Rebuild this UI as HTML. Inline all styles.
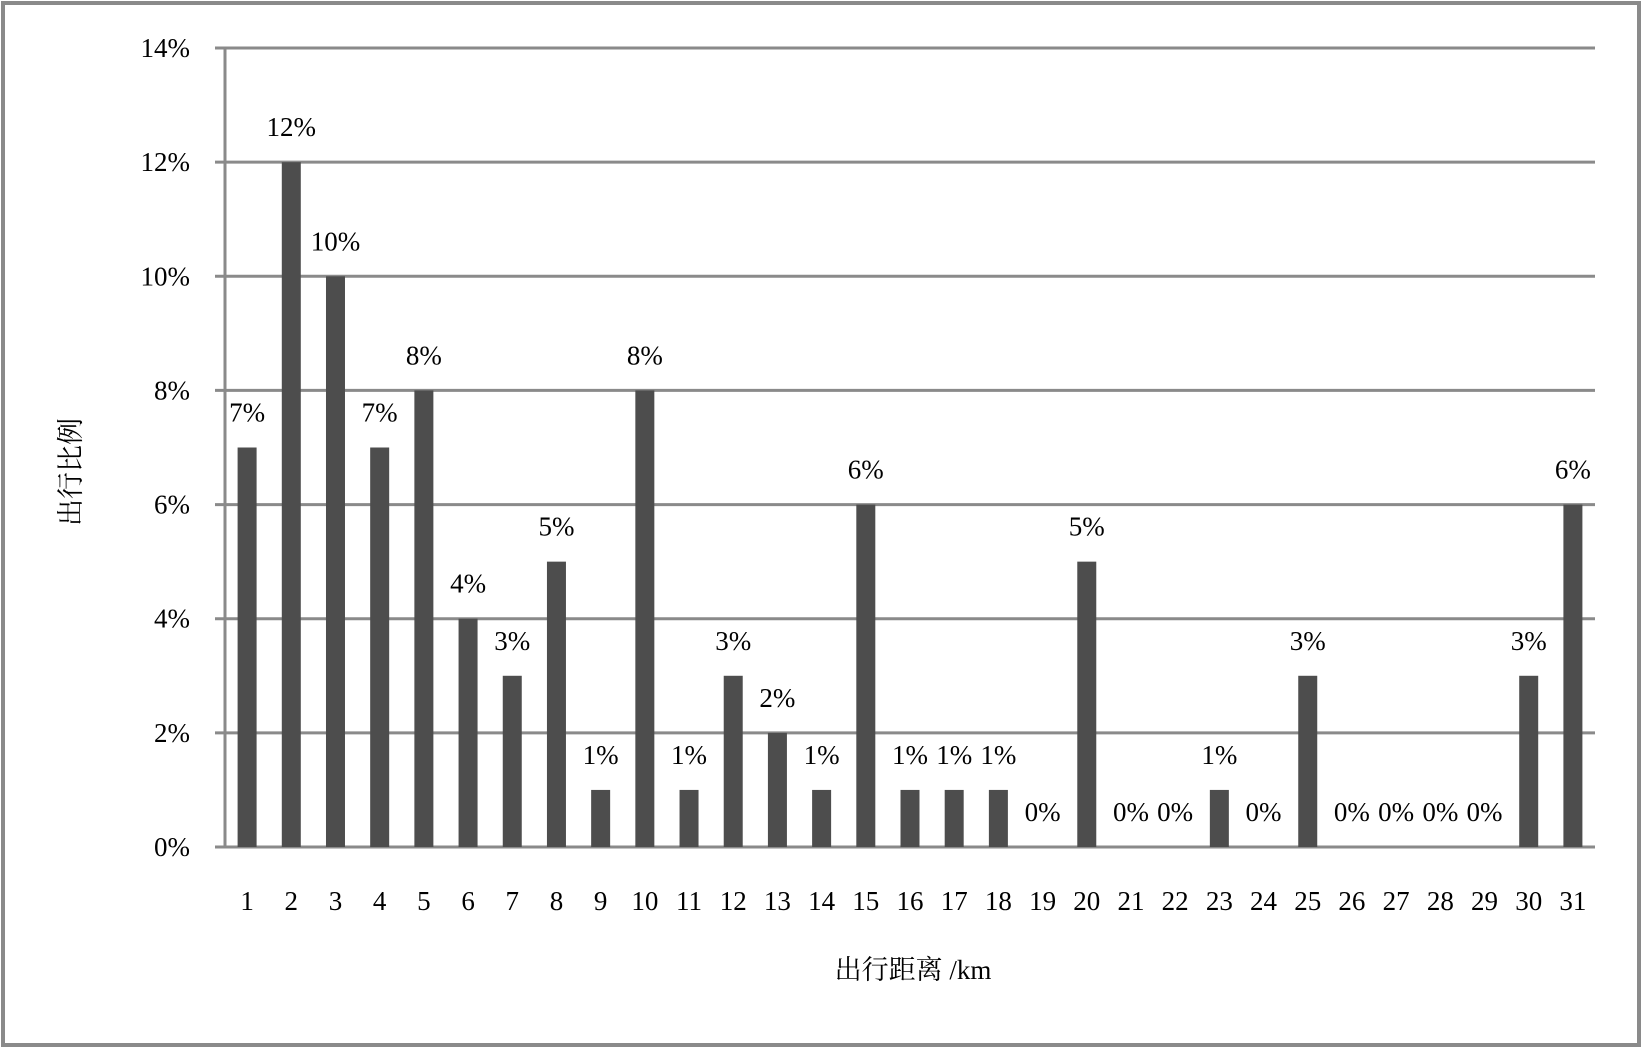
<!DOCTYPE html>
<html><head><meta charset="utf-8"><style>
body{margin:0;background:#fff}
svg text{font-family:"Liberation Serif","Noto Serif CJK SC",serif;fill:#000}
</style></head><body>
<svg width="1643" height="1049">
<rect x="3" y="3" width="1636" height="1042" fill="#fff" stroke="#8a8a8a" stroke-width="4"/>
<g id="grid"></g><g id="bars"></g><g id="labels"></g>
<text x="80" y="472" font-size="27" text-anchor="middle" transform="rotate(-90 80 472)">出行比例</text>
<text x="913" y="979" font-size="27" text-anchor="middle">出行距离 /km</text>
</svg>
<script>
const categories=[1,2,3,4,5,6,7,8,9,10,11,12,13,14,15,16,17,18,19,20,21,22,23,24,25,26,27,28,29,30,31];
const values=[7,12,10,7,8,4,3,5,1,8,1,3,2,1,6,1,1,1,0,5,0,0,1,0,3,0,0,0,0,3,6];
const yTicks=[0,2,4,6,8,10,12,14];
const X0=225,X1=1595,Y0=847,YT=48,YMAX=14;
const step=(X1-X0)/categories.length;
const y=v=>Y0-(v/YMAX)*(Y0-YT);
const xc=i=>X0+step*(i+0.5);
const NS='http://www.w3.org/2000/svg';
const g=document.getElementById('grid'),b=document.getElementById('bars'),l=document.getElementById('labels');
function mk(tag,at,parent){const e=document.createElementNS(NS,tag);for(const k in at)e.setAttribute(k,at[k]);parent.appendChild(e);return e;}
yTicks.forEach(t=>{
 const ln=mk('line',{x1:215,x2:X1,y1:y(t),y2:y(t),stroke:'#8a8a8a','stroke-width':3},g);
 
 
 const tx=mk('text',{x:190,y:y(t)+9,'font-size':27,'text-anchor':'end'},g);
 tx.textContent=t+'%';
 
 
});
const ax=mk('line',{x1:X0,x2:X0,y1:YT,y2:Y0+1,stroke:'#8a8a8a','stroke-width':3},g);


categories.forEach((c,i)=>{
 const v=values[i];
 if(v>0){
  const r=mk('rect',{x:xc(i)-9.5,y:y(v),width:19,height:Y0-y(v),fill:'#4d4d4d'},b);
  
  
 }
 const dl=mk('text',{x:xc(i),y:y(v)-26,'font-size':27,'text-anchor':'middle'},l);
 dl.textContent=v+'%';
 
 
 const xl=mk('text',{x:xc(i),y:910,'font-size':27,'text-anchor':'middle'},l);
 xl.textContent=c;
 
 
});
</script>
</body></html>
